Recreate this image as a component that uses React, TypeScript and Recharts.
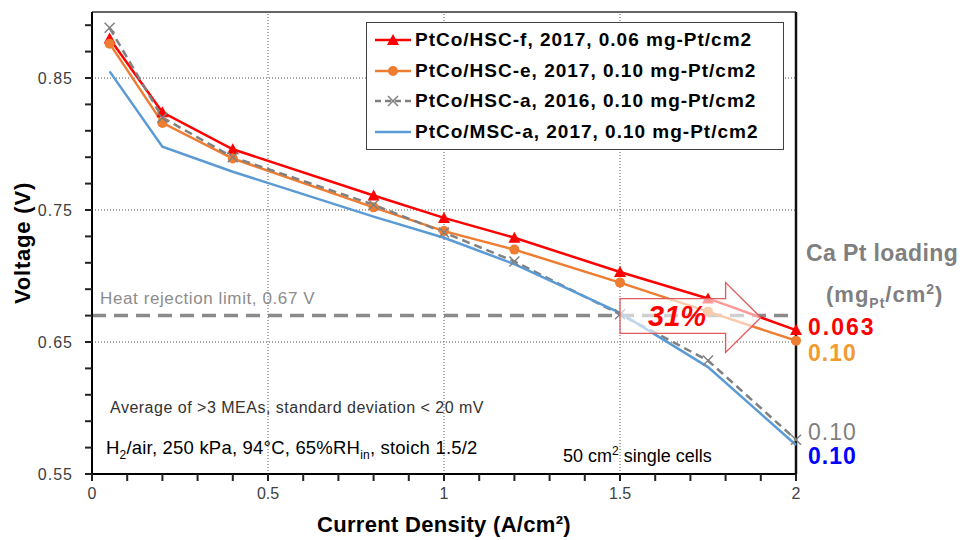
import {
  LineChart, Line, XAxis, YAxis, ReferenceLine, ReferenceArea, Legend,
} from 'recharts';

// Current density (A/cm2) and cell voltage (V)
const CURRENT = [0.05, 0.2, 0.4, 0.8, 1.0, 1.2, 1.5, 1.75, 2.0];
const HSC_F_2017 = [0.880, 0.824, 0.796, 0.761, 0.744, 0.729, 0.703, 0.683, 0.659];
const HSC_E_2017 = [0.876, 0.816, 0.789, 0.752, 0.734, 0.720, 0.695, 0.673, 0.651];
const HSC_A_2016 = [0.888, 0.820, 0.790, 0.754, 0.733, 0.711, 0.671, 0.636, 0.576];
const MSC_A_2017 = [0.855, 0.798, 0.779, 0.745, 0.729, 0.709, 0.672, 0.631, 0.572];

const X_TICKS = [0, 0.1, 0.2, 0.3, 0.4, 0.5, 0.6, 0.7, 0.8, 0.9, 1, 1.1, 1.2, 1.3, 1.4, 1.5, 1.6, 1.7, 1.8, 1.9, 2];
const Y_TICKS = [0.55, 0.57, 0.59, 0.61, 0.63, 0.65, 0.67, 0.69, 0.71, 0.73, 0.75, 0.77, 0.79, 0.81, 0.83, 0.85, 0.87, 0.89];
const X_GRID = [0.5, 1, 1.5];
const Y_GRID = [0.65, 0.75, 0.85];
const HEAT_LIMIT = 0.67;

const SERIES = [
  { key: 'hscF', label: 'PtCo/HSC-f, 2017, 0.06 mg-Pt/cm2', color: '#ff0000', values: HSC_F_2017, marker: 'triangle' },
  { key: 'hscE', label: 'PtCo/HSC-e, 2017, 0.10 mg-Pt/cm2', color: '#ee7d31', values: HSC_E_2017, marker: 'circle' },
  { key: 'hscA', label: 'PtCo/HSC-a, 2016, 0.10 mg-Pt/cm2', color: '#808080', values: HSC_A_2016, marker: 'cross' },
  { key: 'mscA', label: 'PtCo/MSC-a, 2017, 0.10 mg-Pt/cm2', color: '#5b9bd5', values: MSC_A_2017, marker: 'none' },
];

const data = CURRENT.map((x, i) => {
  const row: Record<string, number> = { x };
  SERIES.forEach((s) => { row[s.key] = s.values[i]; });
  return row;
});

const FONT = '"Liberation Sans", Arial, sans-serif';
const MARGIN = { top: 12, right: 168, left: 0, bottom: 0 };
const Y_AXIS_W = 92;
const X_AXIS_H = 66;
const TICK = 7;

function Marker({ type, cx, cy, color }: { type: string; cx: number; cy: number; color: string }) {
  if (type === 'triangle') {
    return <polygon points={`${cx},${cy - 6} ${cx - 6},${cy + 5} ${cx + 6},${cy + 5}`} fill={color} />;
  }
  if (type === 'circle') return <circle cx={cx} cy={cy} r={5} fill={color} />;
  if (type === 'cross') {
    return (
      <g stroke={color} strokeWidth={1.5}>
        <line x1={cx - 5} y1={cy - 5} x2={cx + 5} y2={cy + 5} />
        <line x1={cx - 5} y1={cy + 5} x2={cx + 5} y2={cy - 5} />
      </g>
    );
  }
  return null;
}

// tick label only on the major ticks; every tick gets a short mark drawn as a path
function XTick(props: any) {
  const { x, y, payload } = props;
  const v = payload.value;
  const axisY = y - TICK - 7;
  const major = Math.round(v * 10) % 5 === 0;
  return (
    <g>
      <path d={`M${x},${axisY}V${axisY + TICK}`} stroke="#222" strokeWidth={2} fill="none" />
      {major && (
        <text x={x} y={y} dy="0.71em" textAnchor="middle" fill="#404040" fontSize={16} fontFamily={FONT}>
          {String(v)}
        </text>
      )}
    </g>
  );
}

function YTick(props: any) {
  const { x, y, payload } = props;
  const v = payload.value;
  const axisX = x + TICK + 12;
  const major = Math.round(v * 100) % 10 === 5;
  return (
    <g>
      <path d={`M${axisX},${y}H${axisX - TICK}`} stroke="#222" strokeWidth={2} fill="none" />
      {major && (
        <text x={x} y={y} dy="0.35em" textAnchor="end" fill="#404040" fontSize={16} fontFamily={FONT} letterSpacing={1}>
          {v.toFixed(2)}
        </text>
      )}
    </g>
  );
}

function LegendBox() {
  return (
    <div
      style={{
        width: 418, boxSizing: 'border-box', border: '1.5px solid #404040', background: '#fff',
        padding: '2px 0 2px 6px', fontFamily: FONT, fontWeight: 700, fontSize: 19, letterSpacing: 1, color: '#000',
      }}
    >
      {SERIES.map((s) => (
        <div key={s.key} style={{ display: 'flex', alignItems: 'center', height: 30.5 }}>
          <svg width={40} height={16} style={{ marginRight: 2 }}>
            <line x1={2} y1={8} x2={38} y2={8} stroke={s.color} strokeWidth={2.5}
              strokeDasharray={s.key === 'hscA' ? '6 4' : undefined} />
            <Marker type={s.marker} cx={20} cy={8} color={s.color} />
          </svg>
          <span>{s.label}</span>
        </div>
      ))}
    </div>
  );
}

function ArrowShape(props: any) {
  const { x, y, width, height } = props;
  const bodyTop = y + height * 0.23;
  const bodyBot = y + height * 0.725;
  const headX = x + width * 0.75;
  const pts = [
    [x, bodyTop], [headX, bodyTop], [headX, y], [x + width, y + height * 0.5],
    [headX, y + height], [headX, bodyBot], [x, bodyBot],
  ].map((p) => p.join(',')).join(' ');
  return (
    <g>
      <polygon points={pts} fill="#ffffff" fillOpacity={0.6} stroke="#e05a5a" strokeWidth={1.3} />
      <text x={x + 28} y={(bodyTop + bodyBot) / 2 + 10} fill="#ff0000" fontFamily={FONT}
        fontSize={29} fontWeight={700} fontStyle="italic">31%</text>
    </g>
  );
}

const abs = (left: number, top: number, extra: React.CSSProperties = {}): React.CSSProperties => ({
  position: 'absolute', left, top, fontFamily: FONT, whiteSpace: 'nowrap', lineHeight: '24px', ...extra,
});

export default function App() {
  return (
    <div style={{ position: 'absolute', left: 0, top: 0, width: 964, height: 540, background: '#fff' }}>
      <LineChart width={964} height={540} data={data} margin={MARGIN}>
        <XAxis
          dataKey="x" type="number" domain={[0, 2]} ticks={X_TICKS} interval={0}
          axisLine={{ stroke: '#000', strokeWidth: 2 }} tickLine={false}
          tickSize={TICK} tickMargin={7} height={X_AXIS_H}
          tick={<XTick />}
          label={{
            value: 'Current Density (A/cm²)', position: 'insideBottom', offset: 8,
            style: { fill: '#000', fontSize: 22, fontWeight: 700, fontFamily: FONT, letterSpacing: 0.3 },
          }}
        />
        <YAxis
          type="number" domain={[0.55, 0.9]} ticks={Y_TICKS} interval={0} allowDataOverflow
          axisLine={{ stroke: '#000', strokeWidth: 2 }} tickLine={false}
          tickSize={TICK} tickMargin={12} width={Y_AXIS_W}
          tick={<YTick />}
          label={{
            content: (p: any) => {
              const cy = p.viewBox.y + p.viewBox.height / 2;
              return (
                <text x={22} y={cy} transform={`rotate(-90 22 ${cy})`} textAnchor="middle"
                  dominantBaseline="central" fill="#000" fontSize={22} fontWeight={700} fontFamily={FONT}
                  letterSpacing={0.8}>
                  Voltage (V)
                </text>
              );
            },
          }}
        />
        {X_GRID.map((v) => (
          <ReferenceLine key={`gx${v}`} x={v} stroke="#555" strokeDasharray="1 2" />
        ))}
        {Y_GRID.map((v) => (
          <ReferenceLine key={`gy${v}`} y={v} stroke="#555" strokeDasharray="1 2" />
        ))}
        <ReferenceLine y={0.9} stroke="#333" strokeWidth={1.5} />
        <ReferenceLine x={2} stroke="#111" strokeWidth={2.5} />
        <ReferenceLine
          y={HEAT_LIMIT} stroke="#8a8a8a" strokeWidth={3.5} strokeDasharray="14 8"
          label={{
            content: (p: any) => (
              <text x={p.viewBox.x + 8} y={p.viewBox.y - 12} fill="#8c8c8c" fontSize={17}
                fontFamily={FONT} letterSpacing={0.6}>
                Heat rejection limit, 0.67 V
              </text>
            ),
          }}
        />
        {SERIES.map((s) => (
          <Line
            key={s.key} dataKey={s.key} type="linear" stroke={s.color} strokeWidth={2.5}
            strokeDasharray={s.key === 'hscA' ? '8 5' : undefined}
            isAnimationActive={false}
            dot={s.marker === 'none' ? false : (p: any) => (
              <Marker key={`${s.key}-${p.index}`} type={s.marker} cx={p.cx} cy={p.cy} color={s.color} />
            )}
            activeDot={false}
          />
        ))}
        <Legend
          layout="vertical" align="center" verticalAlign="middle"
          wrapperStyle={{ left: 366, top: 22, width: 'auto' }}
          content={() => <LegendBox />}
        />
      </LineChart>

      {/* overlay with the same scales so the arrow sits above the curves */}
      <div style={{ position: 'absolute', left: 0, top: 0, pointerEvents: 'none' }}>
        <LineChart
          width={964} height={540} data={data}
          margin={{ top: MARGIN.top, right: MARGIN.right, left: Y_AXIS_W, bottom: X_AXIS_H }}
        >
          <XAxis dataKey="x" type="number" domain={[0, 2]} hide />
          <YAxis type="number" domain={[0.55, 0.9]} allowDataOverflow hide />
          <ReferenceArea x1={1.5} x2={1.9} y1={0.642} y2={0.695} shape={<ArrowShape />} ifOverflow="visible" />
        </LineChart>
      </div>

      <div style={abs(110, 396, { fontSize: 16, color: '#333', letterSpacing: 0.5 })}>
        Average of &gt;3 MEAs, standard deviation &lt; 20 mV
      </div>
      <div style={abs(106, 436, { fontSize: 18.5, color: '#000', letterSpacing: 0.2 })}>
        H<sub style={{ fontSize: 12 }}>2</sub>/air, 250 kPa, 94°C, 65%RH<sub style={{ fontSize: 12 }}>in</sub>, stoich 1.5/2
      </div>
      <div style={abs(563, 439, { fontSize: 18, color: '#000' })}>
        50 cm<sup style={{ fontSize: 12 }}>2</sup> single cells
      </div>

      <div style={abs(806, 240, { fontSize: 23, fontWeight: 700, color: '#7f7f7f', lineHeight: '26px', letterSpacing: 0.4 })}>
        Ca Pt loading
      </div>
      <div style={abs(826, 276, { fontSize: 22, fontWeight: 700, color: '#7f7f7f', lineHeight: '26px', letterSpacing: 1 })}>
        (mg<sub style={{ fontSize: 14 }}>Pt</sub>/cm<sup style={{ fontSize: 14 }}>2</sup>)
      </div>
      <div style={abs(808, 314, { fontSize: 23, fontWeight: 700, color: '#ff0000', lineHeight: '26px', letterSpacing: 2 })}>0.063</div>
      <div style={abs(808, 340, { fontSize: 23, fontWeight: 700, color: '#f39a30', lineHeight: '26px', letterSpacing: 1 })}>0.10</div>
      <div style={abs(808, 419, { fontSize: 23, color: '#7f7f7f', lineHeight: '26px', letterSpacing: 1 })}>0.10</div>
      <div style={abs(808, 443, { fontSize: 23, fontWeight: 700, color: '#0000ff', lineHeight: '26px', letterSpacing: 1 })}>0.10</div>
    </div>
  );
}
